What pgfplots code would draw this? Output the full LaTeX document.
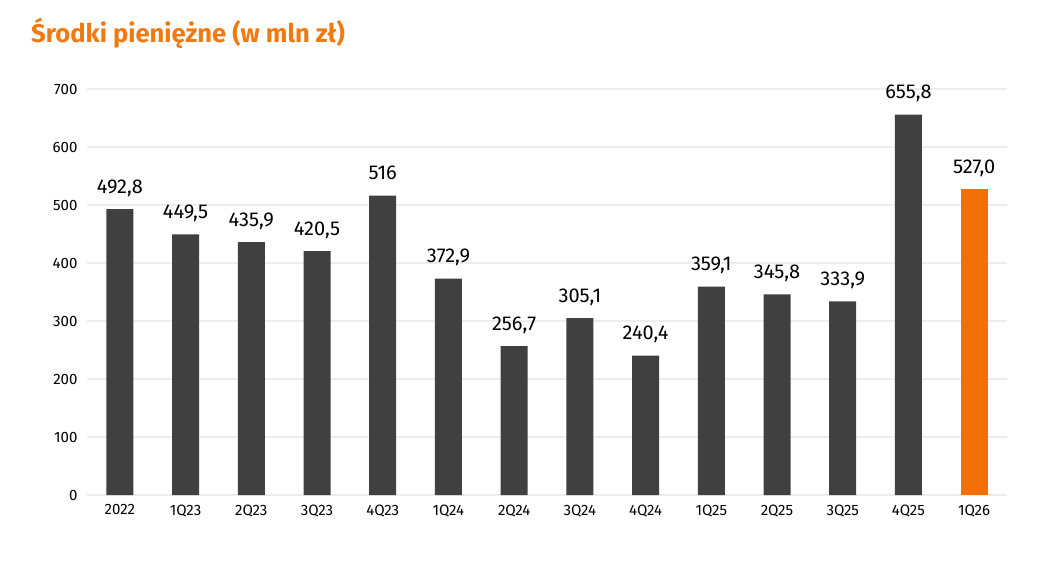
\documentclass[border=0pt]{standalone}
\usepackage{pgfplots}
\pgfplotsset{compat=1.18}
\usepackage{pgfplotstable}
\usepackage{fontspec}
\setmainfont{Fira Sans}
\definecolor{bardark}{HTML}{404040}
\definecolor{barorange}{HTML}{F37006}
\definecolor{titleorange}{HTML}{F07A12}
\definecolor{gridgrey}{HTML}{EDEDED}
\pgfplotstableread{
x y lab
0 492.8 492,8
1 449.5 449,5
2 435.9 435,9
3 420.5 420,5
4 516 516
5 372.9 372,9
6 256.7 256,7
7 305.1 305,1
8 240.4 240,4
9 359.1 359,1
10 345.8 345,8
11 333.9 333,9
12 655.8 655,8
}\darkdata
\pgfplotstableread{
x y lab
13 527.0 527,0
}\orangedata
\begin{document}
\begin{tikzpicture}[x=1pt,y=1pt]
\path[use as bounding box] (0,0) rectangle (1052,568);
\node[anchor=base west, inner sep=0, text=titleorange, font=\fontsize{25.6}{30}\selectfont\bfseries] at (31,525) {Środki pieniężne (w mln zł)};
\begin{axis}[
  at={(87pt,73pt)}, anchor=south west,
  scale only axis, width=920pt, height=406pt,
  xmin=-0.5, xmax=13.5, ymin=0, ymax=700,
  ytick={0,100,...,700},
  xtick={0,...,13},
  xticklabels={2022,1Q23,2Q23,3Q23,4Q23,1Q24,2Q24,3Q24,4Q24,1Q25,2Q25,3Q25,4Q25,1Q26},
  axis line style={draw=none},
  major tick length=0pt,
  ymajorgrids, grid style={gridgrey, line width=1.6pt},
  tick label style={font=\fontsize{15}{18}\selectfont, text=black},
  /pgf/number format/assume math mode=true,
  yticklabel style={xshift=-6pt},
  xticklabel style={yshift=-6pt},
  ybar, bar width=27pt, bar shift=0pt,
  nodes near coords,
  point meta=explicit symbolic,
  every node near coord/.append style={font=\fontsize{20}{24}\selectfont, anchor=base, inner sep=0pt, yshift=16pt, text=black},
  clip=false,
]
\addplot[fill=bardark, draw=none] table[x=x, y=y, meta=lab] {\darkdata};
\addplot[fill=barorange, draw=none] table[x=x, y=y, meta=lab] {\orangedata};
\end{axis}
\end{tikzpicture}
\end{document}
